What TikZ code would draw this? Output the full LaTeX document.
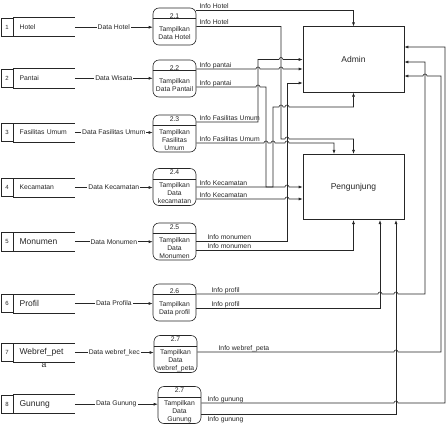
\documentclass[tikz,border=0pt]{standalone}
\usepackage{fontspec}
\setmainfont{Liberation Sans}
\usetikzlibrary{positioning, arrows.meta}

\begin{document}
\begin{tikzpicture}[x=1pt, y=-1pt, >={Latex[length=4pt,width=3pt]}, line width=0.6pt, color=black!85]
\tikzset{num/.style={rectangle, draw, minimum width=12pt, minimum height=18.5pt, inner sep=0pt, font=\fontsize{6}{7}\selectfont},
		ename/.style={rectangle, minimum width=61pt, minimum height=18.5pt, text width=49pt, inner xsep=6pt, inner ysep=0pt, align=left, font=\fontsize{6.8}{8}\selectfont,
			append after command={\pgfextra{\draw (\tikzlastnode.north west) -- (\tikzlastnode.north east) (\tikzlastnode.south west) -- (\tikzlastnode.south east);}}},
		big/.style={font=\fontsize{8.5}{10}\selectfont},
		proc/.style={rectangle, draw, rounded corners=6pt, minimum width=43pt, minimum height=37pt, inner sep=0pt, align=center, font=\fontsize{6.8}{8}\selectfont,
			append after command={\pgfextra{\draw ([yshift=-11pt]\tikzlastnode.north west) -- ([yshift=-11pt]\tikzlastnode.north east);}}},
		sink/.style={rectangle, draw, minimum width=101pt, minimum height=65.5pt, font=\fontsize{8.5}{10}\selectfont},
		dlbl/.style={fill=white, inner sep=1pt, font=\fontsize{6.8}{8}\selectfont},
		info/.style={anchor=base west, xshift=3pt, yshift=2pt, inner sep=0pt, font=\fontsize{6.8}{8}\selectfont},
		hop/.style={insert path={arc[start angle=180, end angle=0, radius=2pt]}}}
\useasboundingbox (0,0) rectangle (448,429);

\node[num] (n1) at (7,27.2) {1};
\node[ename, right=0pt of n1] (hotel) {Hotel};
\node[num] (n2) at (7,78.3) {2};
\node[ename, right=0pt of n2] (pantai) {Pantai};
\node[num] (n3) at (7,132.5) {3};
\node[ename, right=0pt of n3] (fasum) {Fasilitas Umum};
\node[num] (n4) at (7,187.5) {4};
\node[ename, right=0pt of n4] (kec) {Kecamatan};
\node[num] (n5) at (7,241.7) {5};
\node[ename, big, right=0pt of n5] (monu) {Monumen};
\node[num] (n6) at (7,303.5) {6};
\node[ename, big, right=0pt of n6] (profil) {Profil};
\node[num] (n7) at (7,352.5) {7};
\node[ename, big, right=0pt of n7, label={[big, label distance=-3pt]below:a}] (webref) {Webref\_pet};
\node[num] (n8) at (7,404.2) {8};
\node[ename, big, right=0pt of n8] (gunung) {Gunung};

\node[proc] (p21) at (174.5,26.5) {2.1\\[5pt]Tampilkan\\Data Hotel};
\node[proc] (p22) at (174.5,78.5) {2.2\\[5pt]Tampilkan\\Data Pantail};
\node[proc] (p23) at (174.5,133.5) {2.3\\[5pt]Tampilkan\\Fasilitas\\Umum};
\node[proc] (p24) at (174.5,187) {2.4\\[5pt]Tampilkan\\Data\\kecamatan};
\node[proc] (p25) at (174.5,241.5) {2.5\\[5pt]Tampilkan\\Data\\Monumen};
\node[proc] (p26) at (174.5,302.5) {2.6\\[5pt]Tampilkan\\Data profil};
\node[proc] (p27) at (175.5,354) {2.7\\[5pt]Tampilkan\\Data\\webref\_peta};
\node[proc] (p28) at (179.5,405) {2.7\\[5pt]Tampilkan\\Data\\Gunung};

\node[sink] (admin) at (353.5,59.5) {Admin};
\node[sink] (peng) at (353.5,187) {Pengunjung};

\draw[->] (hotel) -- (hotel -| p21.west) node[midway, dlbl] {Data Hotel};
\draw[->] (pantai) -- (pantai -| p22.west) node[midway, dlbl] {Data Wisata};
\draw[->] (fasum) -- (fasum -| p23.west) node[midway, dlbl] {Data Fasilitas Umum};
\draw[->] (kec) -- (kec -| p24.west) node[midway, dlbl] {Data Kecamatan};
\draw[->] (monu) -- (monu -| p25.west) node[midway, dlbl] {Data Monumen};
\draw[->] (profil) -- (profil -| p26.west) node[midway, dlbl] {Data Profila};
\draw[->] (webref) -- (webref -| p27.west) node[midway, dlbl] {Data webref\_kec};
\draw[->] (gunung) -- (gunung -| p28.west) node[midway, dlbl] {Data Gunung};

\draw[->] ([yshift=16.5pt]p21.east) node[info] {Info Hotel} -| (admin.north);
\draw[->] (p21.east) node[info] {Info Hotel} -- (281,26.5) -- (281,139) -- (285,139) [hop] -| (peng.north);
\draw[->] ([yshift=9.5pt]p22.east) node[info] {Info pantai} -- (256,69) [hop] -- (279,69) [hop] -- ([yshift=-9.5pt]admin.west);
\draw[->] ([yshift=-8.5pt]p22.east) node[info] {Info pantai} -- (256,87) [hop] -- (266,87) -- (266,187) -- (285,187) [hop] -- (peng.west);
\draw[->] ([yshift=11.5pt]p23.east) node[info] {Info Fasilitas Umum} -- (258,122) -- (258,59.5) -- (279,59.5) [hop] -- (admin.west);
\draw[->] ([yshift=-9.5pt]p23.east) node[info] {Info Fasilitas Umum} -- (264,143) [hop] -- (271,143) [hop] -- (285,143) [hop] -| ([xshift=-19.5pt]peng.north);
\draw[->] (p24.east) node[info] {Info Kecamatan} -- (273,187) -- (273,107) -- (279,107) [hop] -- (285,107) [hop] -| (admin.south);
\draw[->] ([yshift=-12pt]p24.east) node[info] {Info Kecamatan} -- (285,199) [hop] -- ([yshift=-12pt]peng.west);
\draw[->] (p25.east) node[info, xshift=8pt] {Info monumen} -| (287,83) -- ([yshift=-23.5pt]admin.west);
\draw[->] ([yshift=-8.5pt]p25.east) node[info, xshift=8pt] {Info monumen} -| (peng.south);
\draw[->] ([yshift=8.5pt]p26.east) node[info, xshift=12pt] {Info profil} -- (378,294) [hop] -- (394,294) [hop] -- (425,294) |- ([yshift=-2.5pt]admin.east);
\draw[->] ([yshift=-5.5pt]p26.east) node[info, xshift=12pt] {Info profil} -| ([xshift=26.5pt]peng.south);
\draw[->] ([yshift=2pt]p27.east) node[info, xshift=18pt] {Info webref\_peta} -- (394,352) [hop] -- (441,352) -- (441,76) -- (427,76) arc[start angle=0, end angle=180, radius=2pt] -- ([yshift=-16.5pt]admin.east);
\draw[->] ([yshift=2pt]p28.east) node[info, xshift=3pt] {Info gunung} -- (394,403) [hop] -- (445,403) |- ([yshift=12.5pt]admin.east);
\draw[->] ([yshift=-9pt]p28.east) node[info, xshift=3pt, anchor=north west, yshift=-4pt] {Info gunung} -| ([xshift=42.5pt]peng.south);
\end{tikzpicture}
\end{document}
